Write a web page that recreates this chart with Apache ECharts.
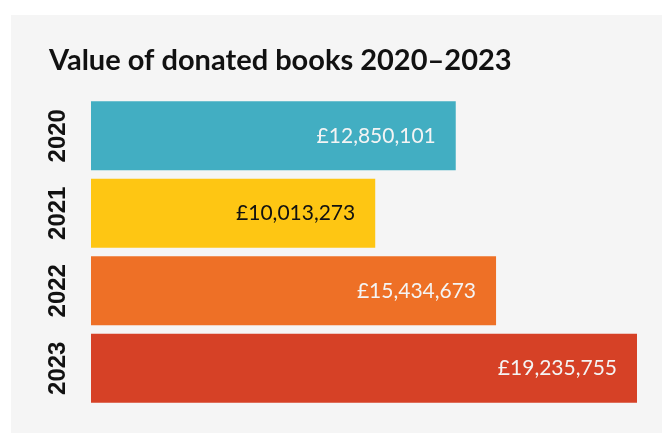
<!DOCTYPE html>
<html>
<head>
<meta charset="utf-8">
<script src="https://cdn.jsdelivr.net/npm/echarts@6/dist/echarts.min.js"></script>
<style>
html,body{margin:0;padding:0;background:#ffffff;}
#c{width:662px;height:433px;}
</style>
</head>
<body>
<div id="c"></div>
<script>
const years = ['2020', '2021', '2022', '2023'];
// bar lengths as drawn in the picture
const values = [12850101, 10013273, 14270000, 19235755];
// value labels as printed in the picture
const valueLabels = ['£12,850,101', '£10,013,273', '£15,434,673', '£19,235,755'];
const barColors = ['#42aec2', '#fec613', '#ee7026', '#d64126'];
const labelColors = ['#f4f4f4', '#111111', '#f4f4f4', '#f4f4f4'];
const titleText = 'Value of donated books 2020–2023';

const chart = echarts.init(document.getElementById('c'), null, {renderer: 'canvas'});
chart.setOption({
  backgroundColor: '#ffffff',
  animation: false,
  graphic: [{
    type: 'rect', z: -10, silent: true,
    shape: {x: 11, y: 15, width: 700, height: 500},
    style: {fill: '#f5f5f5'}
  }],
  title: {
    text: titleText,
    left: 44, top: 41,
    textStyle: {fontFamily: 'Lato', fontWeight: 'bold', fontSize: 29, color: '#111111'}
  },
  grid: {left: 91, right: 25, top: 97, bottom: 26, containLabel: false},
  xAxis: {
    type: 'value', min: 0, max: 'dataMax', show: false
  },
  yAxis: {
    type: 'category', data: years, inverse: true,
    axisLine: {show: false}, axisTick: {show: false}, splitLine: {show: false},
    axisLabel: {
      rotate: 90, margin: 21, color: '#111111',
      fontFamily: 'Liberation Sans', fontWeight: 'bold', fontSize: 24
    }
  },
  series: [{
    type: 'bar',
    barCategoryGap: '11%',
    data: values.map((v, i) => ({
      value: v,
      itemStyle: {color: barColors[i]},
      label: {color: labelColors[i]}
    })),
    label: {
      show: true, position: 'insideRight', distance: 20,
      fontFamily: 'Lato', fontSize: 21,
      formatter: p => valueLabels[p.dataIndex]
    }
  }]
});
</script>
</body>
</html>
